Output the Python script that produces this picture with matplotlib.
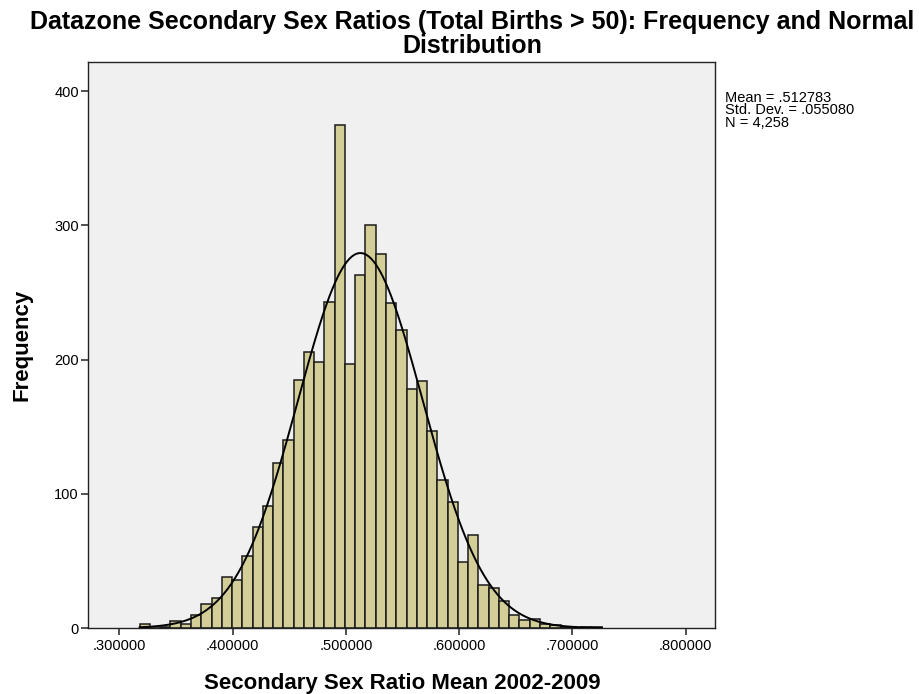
import numpy as np
import matplotlib
matplotlib.use("Agg")
import matplotlib.pyplot as plt

plt.rcParams['font.family'] = ['Liberation Sans', 'DejaVu Sans']

# ---- data ----
bin_start = 0.3180
bin_width = 0.00906
counts = [3, 0, 1, 5, 3, 10, 18, 22, 38, 36,
          54, 75, 91, 123, 140, 185, 206, 198, 243, 375,
          197, 263, 300, 279, 242, 222, 178, 184, 147, 110,
          94, 49, 69, 32, 30, 20, 10, 6, 7, 3,
          2, 1, 0, 1, 1]
mean = 0.512783
std = 0.055080
n_total = 4258
x_ticks = [0.3, 0.4, 0.5, 0.6, 0.7, 0.8]
x_tick_labels = ['.300000', '.400000', '.500000', '.600000', '.700000', '.800000']
y_ticks = [0, 100, 200, 300, 400]
title = "Datazone Secondary Sex Ratios (Total Births > 50): Frequency and Normal\nDistribution"
x_label = "Secondary Sex Ratio Mean 2002-2009"
y_label = "Frequency"
stats_text = "Mean = .512783\nStd. Dev. = .055080\nN = 4,258"

W, H = 919, 694
fig = plt.figure(figsize=(W / 100, H / 100), dpi=100)
fig.patch.set_facecolor('white')
ax = fig.add_axes([88 / W, (H - 628) / H, (715 - 88) / W, (628 - 62) / H])
ax.set_facecolor('#F0F0F0')

lefts = bin_start + bin_width * np.arange(len(counts))
ax.bar(lefts, counts, width=bin_width, align='edge', color='#D3CE97',
       edgecolor='#1a1a1a', linewidth=1.1, zorder=2)

xs = np.linspace(0.318, 0.726, 400)
pdf = n_total * bin_width / (std * np.sqrt(2 * np.pi)) * np.exp(-0.5 * ((xs - mean) / std) ** 2)
ax.plot(xs, pdf, color='black', linewidth=1.4, zorder=3)

ax.set_xlim(0.2724, 0.8258)
ax.set_ylim(0, 421.8)
ax.set_xticks(x_ticks)
ax.set_xticklabels(x_tick_labels)
ax.set_yticks(y_ticks)
ax.tick_params(direction='out', length=5, width=1.2, color='#333333',
               labelsize=10.5, labelcolor='black')
ax.tick_params(axis='x', pad=3)
ax.tick_params(axis='y', pad=1.5)
for s in ax.spines.values():
    s.set_color('#222222')
    s.set_linewidth(1.0)

fig.text(472 / W, 1 - 10 / H, title, ha='center', va='top', fontsize=18,
         fontweight='bold', linespacing=1.0)
fig.text(402 / W, 1 - 684 / H, x_label, ha='center', va='center', fontsize=16,
         fontweight='bold')
fig.text(22 / W, 1 - 345 / H, y_label, ha='center', va='center', fontsize=16,
         fontweight='bold', rotation=90)
fig.text(725 / W, 1 - 91 / H, stats_text, ha='left', va='top', fontsize=10.5,
         linespacing=0.86)

fig.savefig('out.png', dpi=100)
